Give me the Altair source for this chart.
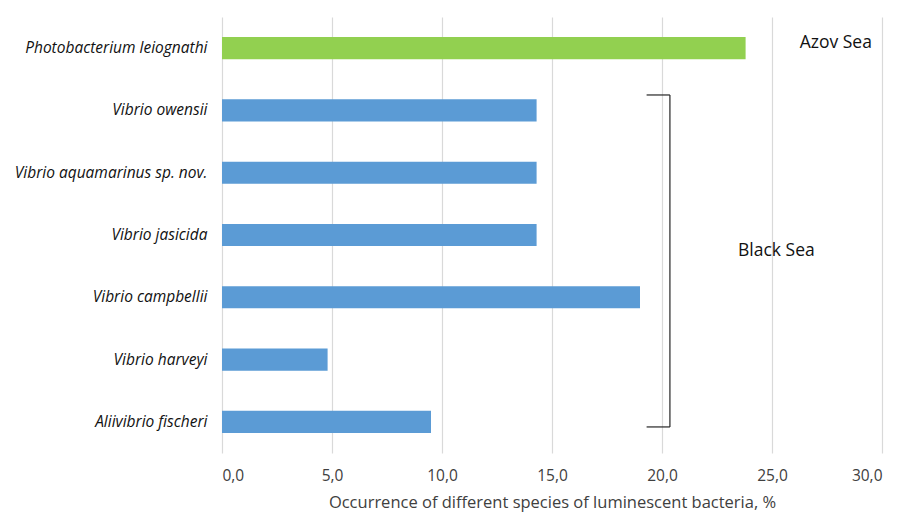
import altair as alt
import pandas as pd

species = [
    "Photobacterium leiognathi",
    "Vibrio owensii",
    "Vibrio aquamarinus sp. nov.",
    "Vibrio jasicida",
    "Vibrio campbellii",
    "Vibrio harveyi",
    "Aliivibrio fischeri",
]
occurrence = [23.8, 14.3, 14.3, 14.3, 19.0, 4.8, 9.5]
sea = ["Azov Sea", "Black Sea", "Black Sea", "Black Sea", "Black Sea", "Black Sea", "Black Sea"]

df = pd.DataFrame({"species": species, "value": occurrence, "sea": sea})

FONT = "Open Sans"

def yscale():
    return alt.Scale(domain=species, paddingInner=0.645, paddingOuter=0.3225)

bars = alt.Chart(df).mark_bar().encode(
    x=alt.X("value:Q", title="Occurrence of different species of luminescent bacteria, %",
            scale=alt.Scale(domain=[0, 30], nice=False),
            axis=alt.Axis(values=[0, 5, 10, 15, 20, 25, 30],
                          labelExpr="replace(format(datum.value, '.1f'), '.', ',')",
                          grid=True, gridColor="#d9d9d9", gridWidth=1.2,
                          domain=False, ticks=False,
                          labelFont=FONT, labelFontSize=15.5, labelColor="#404040",
                          labelPadding=15,
                          titleFont=FONT, titleFontSize=16.5, titleFontWeight="normal",
                          titleColor="#404040", titlePadding=11)),
    y=alt.Y("species:N", title=None, scale=yscale(),
            axis=alt.Axis(domain=False, ticks=False, grid=False,
                          labelFont=FONT, labelFontSize=15.5, labelFontStyle="italic",
                          labelColor="#111111", labelPadding=15, labelLimit=300)),
    color=alt.Color("sea:N", legend=None,
                    scale=alt.Scale(domain=["Azov Sea", "Black Sea"],
                                    range=["#92D050", "#5B9BD5"])),
)

# annotation labels
azov = pd.DataFrame({"label": ["Azov Sea"], "x": [27.9], "species": ["Photobacterium leiognathi"]})
black = pd.DataFrame({"label": ["Black Sea"], "x": [25.2], "species": ["Vibrio jasicida"]})

azov_text = alt.Chart(azov).mark_text(font=FONT, fontSize=17.5, color="#111111", align="center",
                                      baseline="middle").encode(
    x="x:Q", y=alt.Y("species:N", scale=yscale(), bandPosition=0.27), text="label:N")
black_text = alt.Chart(black).mark_text(font=FONT, fontSize=17.5, color="#111111", align="center",
                                        baseline="middle", yOffset=5).encode(
    x="x:Q", y=alt.Y("species:N", scale=yscale(), bandPosition=1), text="label:N")

# bracket spanning the Black Sea group
br_top = pd.DataFrame({"x": [19.3], "x2": [20.36], "species": ["Vibrio owensii"]})
br_bot = pd.DataFrame({"x": [19.3], "x2": [20.36], "species": ["Aliivibrio fischeri"]})
br_v = pd.DataFrame({"x": [20.36], "species": ["Vibrio owensii"],
                     "species2": ["Aliivibrio fischeri"]})

top_rule = alt.Chart(br_top).mark_rule(color="#262626", strokeWidth=1.2, yOffset=-4.4).encode(
    x="x:Q", x2="x2:Q", y=alt.Y("species:N", scale=yscale(), bandPosition=0))
bot_rule = alt.Chart(br_bot).mark_rule(color="#262626", strokeWidth=1.2).encode(
    x="x:Q", x2="x2:Q", y=alt.Y("species:N", scale=yscale(), bandPosition=0.73))
v_rule = alt.Chart(br_v).mark_rule(color="#262626", strokeWidth=1.2, yOffset=-4.4, y2Offset=0).encode(
    x="x:Q", y=alt.Y("species:N", scale=yscale(), bandPosition=0),
    y2=alt.Y2("species2:N", bandPosition=0.73))

chart = alt.layer(bars, azov_text, black_text, top_rule, bot_rule, v_rule).properties(
    width=660, height=436,
    background="white",
    autosize=alt.AutoSizeParams(type="none"),
    padding={"left": 214, "top": 9, "right": 10, "bottom": 64},
).configure_view(stroke=None)

chart.save("out.html", embed_options={"renderer": "svg", "actions": False})
